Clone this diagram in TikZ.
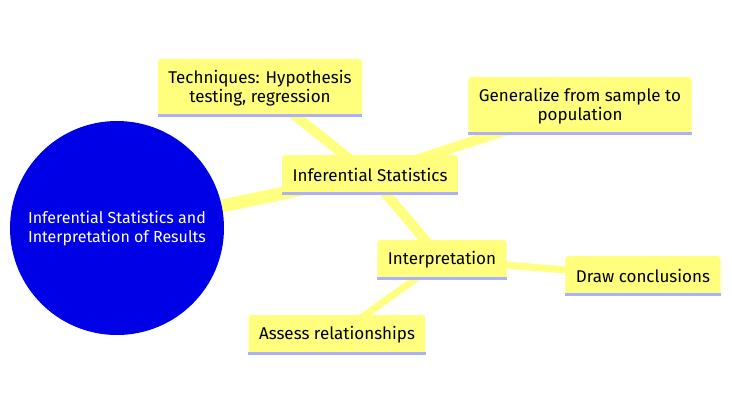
\documentclass[tikz,border=0pt]{standalone}
\usepackage{fontspec}
\setmainfont{Fira Sans}
\usetikzlibrary{positioning, backgrounds}

\definecolor{rootblue}{RGB}{0,0,230}
\definecolor{ideayellow}{RGB}{255,255,125}
\definecolor{edgeyellow}{RGB}{255,255,128}
\definecolor{lavender}{RGB}{175,175,255}

\tikzset{
  idea/.style={fill=ideayellow, rounded corners=3pt, align=center,
    inner xsep=10.5pt, inner ysep=11pt, minimum height=40pt,
    font=\fontsize{17}{19.5}\selectfont,
    append after command={([yshift=1.5pt]\tikzlastnode.south west) edge[lavender, line width=3pt, sharp corners] ([yshift=1.5pt]\tikzlastnode.south east)}},
  branch/.style={draw=edgeyellow, line width=#1}
}

\begin{document}
\begin{tikzpicture}[x=1pt,y=-1pt]
\useasboundingbox (0,0) rectangle (732,413);

\node[circle, fill=rootblue, minimum size=214pt, text=white, align=center,
  font=\fontsize{16}{19}\selectfont] (root) at (117,228) {Inferential Statistics and\\Interpretation of Results};

\node[idea] (infer) at (370,175) {Inferential Statistics};
\node[idea] (tech) at (260,88) {Techniques: Hypothesis\\testing, regression};
\node[idea] (general) at (580,106) {Generalize from sample to\\population};
\node[idea] (interp) at (442,260) {Interpretation};
\node[idea] (draw) at (643,276) {Draw conclusions};
\node[idea] (assess) at (337,335) {Assess relationships};

\begin{scope}[on background layer]
\draw[branch=13pt] (root.center) -- (infer.center);
\draw[branch=10pt] (infer.center) -- (tech.center);
\draw[branch=10pt] (infer.center) -- (general.center);
\draw[branch=10pt] (infer.center) -- (interp.center);
\draw[branch=7pt] (interp.center) -- (draw.center);
\draw[branch=7pt] (interp.center) -- (assess.center);
\end{scope}
\end{tikzpicture}
\end{document}
